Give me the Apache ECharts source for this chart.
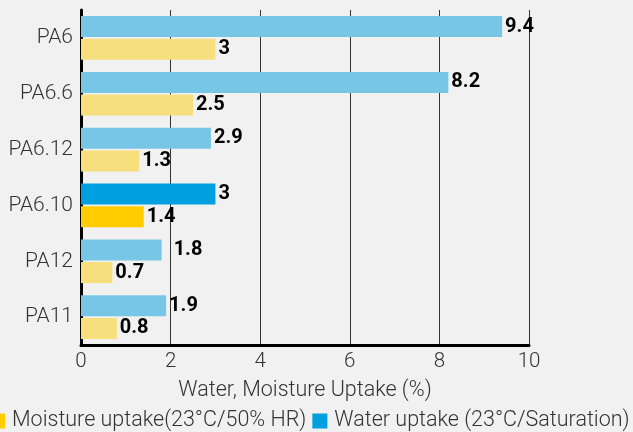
<!DOCTYPE html>
<html>
<head>
<meta charset="utf-8">
<script src="https://cdn.jsdelivr.net/npm/echarts@6/dist/echarts.min.js"></script>
<style>
  html, body { margin: 0; padding: 0; background: #f1f1f1; }
  #chart { width: 633px; height: 432px; }
</style>
</head>
<body>
<div id="chart"></div>
<script>
var categories = ["PA6", "PA6.6", "PA6.12", "PA6.10", "PA12", "PA11"];
var waterUptake = [9.4, 8.2, 2.9, 3, 1.8, 1.9];
var moistureUptake = [3, 2.5, 1.3, 1.4, 0.7, 0.8];
var xTicks = [0, 2, 4, 6, 8, 10];

var highlight = "PA6.10";
var blueLight = "#78c6e6", blueStrong = "#009fdf";
var yellowLight = "#f7df7e", yellowStrong = "#ffcc00";

function buildData(values, light, strong) {
  return values.map(function (v, i) {
    var item = { value: v, itemStyle: { color: categories[i] === highlight ? strong : light } };
    if (categories[i] === "PA12" && values === waterUptake) {
      item.label = { offset: [9, 0] };
    }
    return item;
  });
}

var labelStyle = {
  show: true,
  position: "right",
  distance: 3,
  color: "#000",
  fontWeight: "bold",
  fontSize: 20,
  fontFamily: "Roboto"
};

var chart = echarts.init(document.getElementById("chart"));
chart.setOption({
  backgroundColor: "#f1f1f1",
  animation: false,
  textStyle: { fontFamily: "Roboto" },
  grid: { left: 81, right: 104, top: 10, bottom: 87 },
  legend: {
    top: 410,
    left: -10,
    padding: 0,
    itemWidth: 15,
    itemHeight: 15,
    itemGap: 6,
    icon: "rect",
    data: [
      { name: "Moisture uptake(23°C/50% HR)", itemStyle: { color: yellowStrong } },
      { name: "Water uptake (23°C/Saturation)", itemStyle: { color: blueStrong } }
    ],
    textStyle: { fontSize: 21.5, color: "#333", fontWeight: 300, fontFamily: "Roboto", padding: [0, 0, 0, 2] }
  },
  xAxis: {
    type: "value",
    min: 0,
    max: 10,
    interval: 2,
    name: "Water, Moisture Uptake (%)",
    nameLocation: "middle",
    nameGap: 35,
    nameTextStyle: { fontSize: 21.5, color: "#333", fontWeight: 300, fontFamily: "Roboto" },
    axisLine: { show: true, lineStyle: { color: "#000", width: 3 } },
    axisTick: { show: false },
    axisLabel: {
      fontSize: 20.5, color: "#333", fontWeight: 300, margin: 6,
      formatter: function (v) { return xTicks.indexOf(v) >= 0 ? String(v) : ""; }
    },
    splitLine: { show: true, lineStyle: { color: "#333", width: 1 } }
  },
  yAxis: {
    type: "category",
    data: categories,
    inverse: true,
    axisLine: { show: true, lineStyle: { color: "#000", width: 3 } },
    axisTick: { show: false },
    axisLabel: { fontSize: 21, color: "#333", fontWeight: 300, margin: 8 }
  },
  series: [
    {
      name: "Water uptake (23°C/Saturation)",
      type: "bar",
      barWidth: 21,
      barGap: "8%",
      itemStyle: { color: blueStrong },
      label: labelStyle,
      data: buildData(waterUptake, blueLight, blueStrong)
    },
    {
      name: "Moisture uptake(23°C/50% HR)",
      type: "bar",
      barWidth: 21,
      barGap: "8%",
      itemStyle: { color: yellowStrong },
      label: labelStyle,
      data: buildData(moistureUptake, yellowLight, yellowStrong)
    }
  ]
});
</script>
</body>
</html>
